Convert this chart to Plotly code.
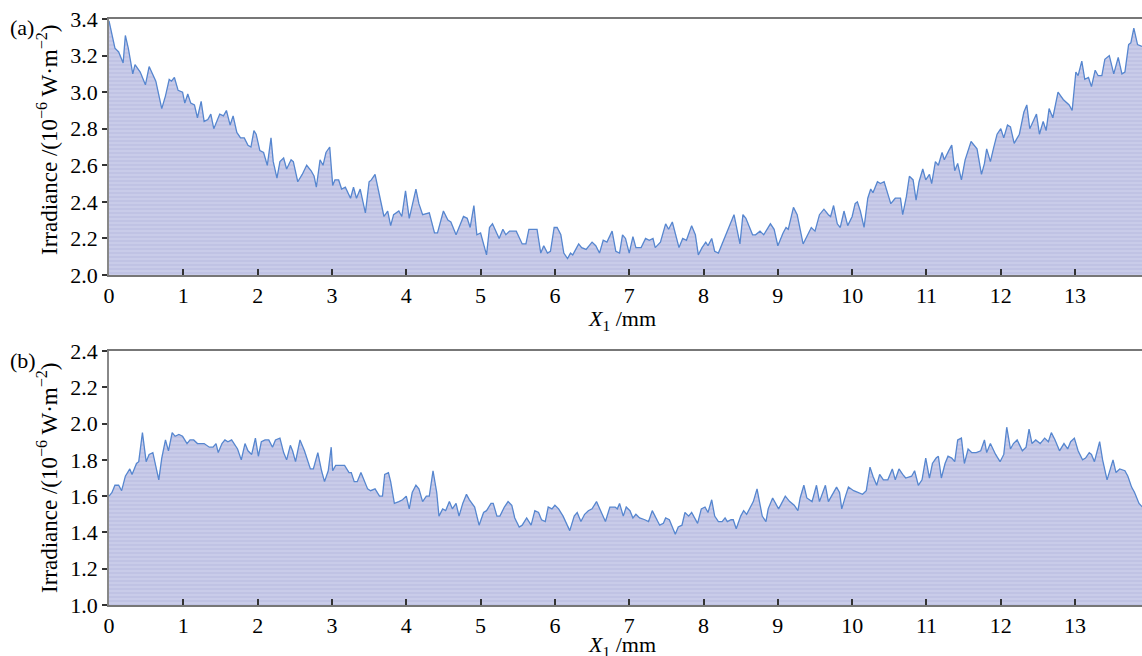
import plotly.graph_objects as go

# ---- panel (a) ----
xa = [0.00,0.08,0.13,0.19,0.22,0.26,0.32,0.35,0.42,0.49,0.54,0.60,0.63,0.71,0.76,0.81,0.84,0.88,0.93,0.99,
      1.02,1.06,1.10,1.15,1.19,1.24,1.28,1.33,1.37,1.41,1.49,1.54,1.58,1.63,1.67,1.72,1.77,1.82,1.87,1.91,
      1.95,1.98,2.03,2.08,2.13,2.18,2.21,2.26,2.30,2.35,2.39,2.45,2.48,2.54,2.60,2.66,2.72,2.76,2.79,2.84,
      2.88,2.92,2.97,3.01,3.04,3.09,3.13,3.18,3.25,3.29,3.33,3.38,3.45,3.50,3.53,3.58,3.63,3.70,3.75,3.79,
      3.83,3.90,3.94,3.99,4.04,4.13,4.17,4.22,4.31,4.38,4.42,4.50,4.56,4.60,4.67,4.77,4.82,4.86,4.91,4.95,
      5.00,5.08,5.12,5.16,5.25,5.30,5.34,5.39,5.48,5.56,5.61,5.65,5.76,5.81,5.85,5.90,5.94,5.99,6.03,6.08,
      6.12,6.17,6.21,6.24,6.32,6.36,6.42,6.50,6.55,6.60,6.65,6.70,6.77,6.82,6.87,6.91,6.95,7.00,7.05,7.09,
      7.16,7.22,7.27,7.32,7.35,7.42,7.49,7.53,7.58,7.63,7.67,7.72,7.77,7.84,7.89,7.93,7.98,8.03,8.06,8.11,
      8.15,8.20,8.26,8.35,8.41,8.49,8.53,8.57,8.66,8.70,8.76,8.81,8.90,8.95,9.00,9.07,9.11,9.14,9.21,9.26,
      9.34,9.45,9.50,9.56,9.62,9.68,9.71,9.75,9.80,9.84,9.89,9.94,10.00,10.04,10.07,10.11,10.16,10.21,10.25,10.28,
      10.34,10.38,10.43,10.49,10.52,10.58,10.65,10.68,10.73,10.77,10.82,10.86,10.90,10.95,10.99,11.04,11.07,11.12,11.16,11.21,
      11.24,11.30,11.34,11.38,11.42,11.47,11.52,11.60,11.68,11.74,11.78,11.81,11.86,11.90,11.95,12.00,12.04,12.09,12.13,12.18,
      12.25,12.31,12.35,12.39,12.48,12.52,12.57,12.61,12.65,12.70,12.77,12.84,12.92,12.96,13.01,13.04,13.09,13.13,13.18,13.22,
      13.27,13.31,13.36,13.40,13.46,13.52,13.58,13.63,13.67,13.72,13.75,13.79,13.84,13.90]
ya = [3.39,3.24,3.22,3.16,3.31,3.24,3.10,3.15,3.11,3.04,3.14,3.09,3.06,2.91,2.98,3.07,3.06,3.08,3.01,3.00,
      2.94,2.99,2.94,2.93,2.86,2.95,2.84,2.85,2.88,2.80,2.88,2.87,2.90,2.82,2.87,2.78,2.75,2.75,2.71,2.70,
      2.79,2.77,2.68,2.67,2.60,2.75,2.62,2.53,2.62,2.64,2.58,2.63,2.62,2.51,2.55,2.60,2.57,2.54,2.48,2.63,
      2.60,2.67,2.70,2.49,2.52,2.52,2.47,2.48,2.42,2.48,2.42,2.47,2.34,2.51,2.52,2.55,2.46,2.32,2.35,2.27,
      2.33,2.35,2.32,2.46,2.31,2.47,2.39,2.33,2.34,2.23,2.23,2.35,2.30,2.29,2.22,2.32,2.31,2.26,2.38,2.22,
      2.23,2.11,2.26,2.28,2.20,2.25,2.22,2.24,2.24,2.17,2.17,2.25,2.25,2.12,2.16,2.12,2.13,2.26,2.26,2.22,
      2.12,2.09,2.12,2.11,2.17,2.15,2.14,2.18,2.16,2.12,2.19,2.18,2.24,2.13,2.12,2.22,2.20,2.12,2.21,2.15,
      2.15,2.20,2.19,2.20,2.15,2.18,2.28,2.25,2.29,2.22,2.15,2.20,2.19,2.27,2.22,2.11,2.15,2.18,2.16,2.20,
      2.13,2.12,2.18,2.27,2.33,2.17,2.33,2.31,2.22,2.22,2.24,2.22,2.28,2.25,2.16,2.23,2.26,2.25,2.37,2.33,
      2.17,2.26,2.24,2.33,2.36,2.33,2.32,2.38,2.28,2.26,2.35,2.27,2.32,2.39,2.40,2.35,2.26,2.42,2.47,2.45,
      2.51,2.50,2.51,2.43,2.39,2.42,2.42,2.33,2.43,2.54,2.52,2.41,2.51,2.58,2.52,2.55,2.50,2.62,2.60,2.67,
      2.63,2.68,2.71,2.57,2.61,2.52,2.63,2.73,2.69,2.55,2.61,2.69,2.62,2.69,2.77,2.80,2.75,2.82,2.81,2.72,
      2.77,2.89,2.93,2.80,2.88,2.77,2.84,2.79,2.91,2.86,3.00,2.96,2.93,2.90,3.11,3.09,3.17,3.07,3.08,3.03,
      3.12,3.09,3.09,3.18,3.20,3.10,3.19,3.10,3.11,3.26,3.27,3.35,3.26,3.25]

# ---- panel (b) ----
xb = [0.00,0.04,0.08,0.13,0.17,0.22,0.28,0.31,0.37,0.40,0.45,0.50,0.54,0.59,0.67,0.71,0.76,0.80,0.85,0.89,
      0.94,0.99,1.05,1.09,1.14,1.19,1.28,1.35,1.40,1.44,1.47,1.52,1.56,1.60,1.65,1.73,1.78,1.83,1.87,1.92,
      1.97,2.01,2.05,2.10,2.15,2.20,2.24,2.30,2.35,2.39,2.44,2.47,2.51,2.57,2.63,2.71,2.75,2.81,2.86,2.90,
      2.95,2.99,3.01,3.05,3.10,3.17,3.23,3.26,3.30,3.34,3.39,3.43,3.48,3.52,3.58,3.64,3.68,3.71,3.76,3.79,
      3.84,3.90,3.95,4.00,4.04,4.08,4.13,4.17,4.22,4.27,4.31,4.36,4.41,4.44,4.49,4.53,4.58,4.62,4.67,4.71,
      4.76,4.81,4.85,4.92,4.98,5.04,5.08,5.14,5.17,5.22,5.26,5.32,5.37,5.42,5.46,5.52,5.56,5.62,5.68,5.73,
      5.78,5.82,5.87,5.91,5.96,6.00,6.05,6.11,6.20,6.26,6.30,6.35,6.40,6.45,6.50,6.56,6.62,6.68,6.74,6.81,
      6.84,6.87,6.92,6.96,7.01,7.05,7.09,7.14,7.21,7.26,7.31,7.37,7.41,7.46,7.49,7.54,7.57,7.62,7.66,7.71,
      7.75,7.80,7.84,7.89,7.92,7.97,8.02,8.06,8.11,8.15,8.20,8.25,8.29,8.32,8.37,8.40,8.44,8.50,8.54,8.58,
      8.63,8.67,8.72,8.76,8.79,8.84,8.87,8.93,8.97,9.01,9.05,9.10,9.16,9.22,9.27,9.30,9.35,9.39,9.46,9.52,
      9.56,9.64,9.68,9.71,9.79,9.83,9.86,9.91,9.95,10.02,10.09,10.14,10.19,10.24,10.28,10.33,10.37,10.42,10.48,10.54,
      10.58,10.63,10.68,10.72,10.80,10.84,10.89,10.94,10.99,11.04,11.08,11.13,11.16,11.20,11.25,11.29,11.34,11.38,11.42,11.47,
      11.51,11.56,11.61,11.67,11.73,11.78,11.81,11.86,11.93,11.99,12.04,12.08,12.13,12.17,12.22,12.29,12.34,12.38,12.42,12.47,
      12.53,12.59,12.64,12.68,12.73,12.79,12.85,12.90,12.94,12.99,13.04,13.10,13.14,13.19,13.22,13.26,13.33,13.37,13.43,13.46,
      13.51,13.55,13.60,13.67,13.71,13.76,13.80,13.86,13.95]
yb = [1.60,1.62,1.66,1.66,1.63,1.71,1.75,1.72,1.78,1.79,1.95,1.79,1.83,1.84,1.69,1.81,1.91,1.85,1.95,1.93,
      1.94,1.93,1.89,1.91,1.91,1.89,1.89,1.87,1.87,1.89,1.84,1.89,1.91,1.90,1.91,1.86,1.80,1.89,1.85,1.83,
      1.92,1.82,1.90,1.91,1.91,1.87,1.91,1.92,1.84,1.80,1.88,1.85,1.79,1.91,1.85,1.75,1.75,1.84,1.74,1.68,
      1.74,1.87,1.74,1.77,1.77,1.77,1.73,1.73,1.68,1.68,1.73,1.69,1.64,1.63,1.64,1.60,1.60,1.72,1.73,1.68,
      1.56,1.57,1.58,1.60,1.53,1.62,1.66,1.64,1.57,1.60,1.60,1.74,1.62,1.49,1.53,1.52,1.57,1.53,1.56,1.49,
      1.56,1.61,1.58,1.54,1.44,1.51,1.52,1.56,1.56,1.49,1.49,1.54,1.57,1.55,1.48,1.43,1.44,1.48,1.44,1.52,
      1.51,1.47,1.46,1.54,1.53,1.55,1.53,1.49,1.41,1.49,1.51,1.46,1.50,1.52,1.53,1.57,1.51,1.46,1.54,1.54,
      1.53,1.56,1.49,1.54,1.52,1.48,1.50,1.48,1.47,1.46,1.52,1.47,1.44,1.45,1.48,1.47,1.44,1.39,1.43,1.44,
      1.51,1.49,1.51,1.47,1.45,1.53,1.54,1.51,1.58,1.49,1.46,1.46,1.48,1.46,1.47,1.47,1.42,1.49,1.52,1.50,
      1.54,1.57,1.64,1.55,1.49,1.46,1.53,1.59,1.56,1.53,1.56,1.60,1.57,1.55,1.52,1.59,1.66,1.59,1.57,1.66,
      1.57,1.66,1.57,1.59,1.65,1.62,1.53,1.60,1.65,1.63,1.62,1.61,1.63,1.76,1.71,1.66,1.72,1.69,1.69,1.75,
      1.69,1.75,1.72,1.70,1.71,1.74,1.66,1.69,1.81,1.70,1.78,1.81,1.82,1.70,1.78,1.82,1.81,1.79,1.91,1.92,
      1.78,1.86,1.84,1.84,1.85,1.91,1.84,1.89,1.83,1.79,1.83,1.98,1.86,1.89,1.91,1.85,1.87,1.97,1.89,1.91,
      1.89,1.92,1.90,1.95,1.91,1.85,1.89,1.86,1.90,1.92,1.85,1.80,1.81,1.84,1.83,1.79,1.90,1.80,1.69,1.73,
      1.80,1.73,1.75,1.74,1.71,1.65,1.62,1.56,1.52]

xticks = list(range(0, 14))
yticks_a = [2.0, 2.2, 2.4, 2.6, 2.8, 3.0, 3.2, 3.4]
yticks_b = [1.0, 1.2, 1.4, 1.6, 1.8, 2.0, 2.2, 2.4]

FONT = "Liberation Serif"
LINE = "#5686cf"
pattern = dict(shape="-", bgcolor="#c9cce9", fgcolor="#aeb2da", size=4, solidity=0.35)

fig = go.Figure()
fig.add_trace(go.Scatter(x=xa, y=ya, mode="lines", line=dict(color=LINE, width=1.3),
                         fill="tozeroy", fillpattern=pattern, xaxis="x", yaxis="y", showlegend=False))
fig.add_trace(go.Scatter(x=xb, y=yb, mode="lines", line=dict(color=LINE, width=1.3),
                         fill="tozeroy", fillpattern=pattern, xaxis="x2", yaxis="y2", showlegend=False))

xt = "<i>X</i><sub>1</sub> /mm"
yt = "Irradiance /(10<sup>−6</sup> W·m<sup>−2</sup>)"

def xaxis(anchor):
    return dict(range=[0, 13.9], tickvals=xticks, ticks="inside", ticklen=6, tickwidth=1.5,
                tickcolor="#333", showline=True, linecolor="#777", linewidth=2, mirror=True,
                showgrid=False, zeroline=False, anchor=anchor, automargin=False,
                tickfont=dict(family=FONT, size=22, color="black"), ticklabelstandoff=0)

def yaxis(anchor, rng, tv, dom):
    return dict(range=rng, tickvals=tv, tickformat=".1f", ticks="outside", ticklen=5, tickwidth=1.5,
                tickcolor="#333", showline=True, linecolor="#888", linewidth=1.5,
                showgrid=False, zeroline=False, anchor=anchor, domain=dom, automargin=False,
                tickfont=dict(family=FONT, size=22, color="black"))

tfont = dict(family=FONT, size=22, color="black")
yfont = dict(family=FONT, size=23, color="black")
ann = [
    dict(text="(a)", x=-0.098, y=0.985, xanchor="left", yanchor="middle", font=tfont),
    dict(text="(b)", x=-0.098, y=0.418, xanchor="left", yanchor="middle", font=tfont),
    dict(text=xt, x=0.4966, y=0.4864, xanchor="center", yanchor="middle", font=tfont),
    dict(text=xt, x=0.4966, y=-0.070, xanchor="center", yanchor="middle", font=tfont),
    dict(text=yt, x=-0.060, y=0.7935, xanchor="center", yanchor="middle", textangle=-90, font=yfont),
    dict(text=yt, x=-0.060, y=0.2167, xanchor="center", yanchor="middle", textangle=-90, font=yfont),
]
for a in ann:
    a.update(xref="paper", yref="paper", showarrow=False)

fig.update_layout(
    width=1142, height=656,
    margin=dict(l=109, r=0, t=19, b=51, autoexpand=False),
    plot_bgcolor="white", paper_bgcolor="white",
    xaxis=xaxis("y"),
    yaxis=yaxis("x", [2.0, 3.4], yticks_a, [0.5631, 1.0]),
    xaxis2=xaxis("y2"),
    yaxis2=yaxis("x2", [1.0, 2.4], yticks_b, [0.0, 0.4334]),
    annotations=ann,
)

fig.write_html("out.html", config={"displayModeBar": False},
               post_script="document.body.style.margin='0';document.body.style.overflow='hidden';")
